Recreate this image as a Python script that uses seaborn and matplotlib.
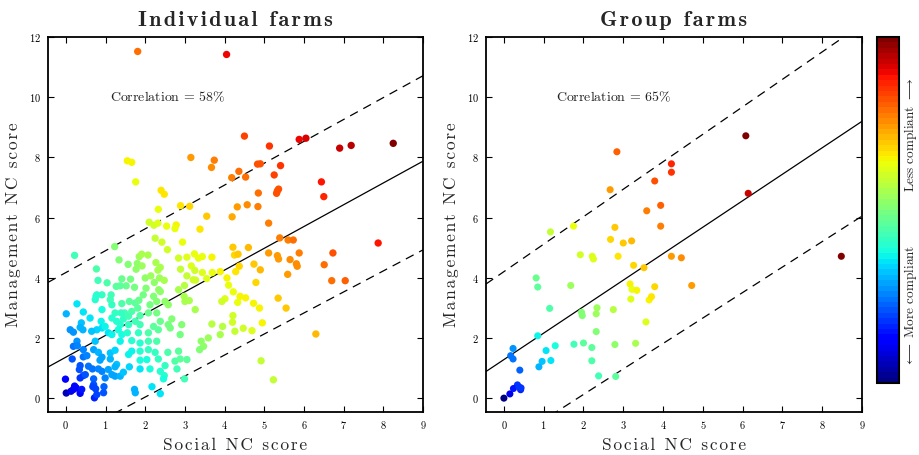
import numpy as np
import pandas as pd
import matplotlib
matplotlib.use("Agg")
import matplotlib.pyplot as plt
import seaborn as sns
from matplotlib.colors import PowerNorm, Normalize
from matplotlib.cm import ScalarMappable

# ---------------- data ----------------
ind_social = [
    1.81, 4.05, 1.55, 1.66, 3.15, 3.74, 3.67, 1.76, 4.50, 5.88, 6.05, 5.13, 6.90, 7.19, 8.25, 4.36, 4.83, 4.90, 5.41, 4.18, 4.53, 5.25, 6.44,
    2.40, 2.48, 4.85, 2.89, 3.12, 2.33, 4.32, 4.57, 4.84, 3.55, 4.19, 2.10, 2.22, 2.32, 2.54, 2.78, 2.75, 3.38, 1.23, 2.25, 2.42, 2.94, 2.56,
    4.21, 4.60, 4.25, 4.34, 0.22, 1.34, 1.85, 1.91, 2.07, 1.57, 1.80, 1.92, 1.77, 2.27, 2.38, 2.32, 2.84, 3.05, 3.24, 3.34, 3.44, 3.68, 3.16,
    2.89, 3.05, 3.25, 3.44, 3.69, 3.89, 4.37, 4.74, 0.77, 2.00, 2.14, 2.36, 4.06, 4.28,
    0.81, 1.04, 1.27, 1.41, 1.52, 1.63, 1.37, 2.02, 2.23, 2.48, 2.34, 1.73, 3.21, 3.27, 2.99, 3.55, 4.10, 4.22, 4.39, 4.79, 0.76,
    4.53, 4.01, 4.33, 4.73, 4.88, 4.21, 4.20, 4.26, 4.47, 4.69, 4.95, 4.92, 5.23,
    0.28, 0.01, 0.44, 0.61, 0.39, 0.36, 0.11, 0.19, 0.43, 0.28, 0.19, 0.29, 0.16, 0.44, 0.53, 0.36, 0.34, 0.44, 0.36, 0.49, -0.01, 0.70,
    0.57, 0.70, 0.75, 0.72, 0.78, 0.96, 0.95, 0.68, 0.01, 0.19, 0.26, 0.36, 0.13, 0.22, 0.40, 1.73, 1.75, 2.17, 2.38,
    0.74, 0.91, 0.78, 1.14, 1.12, 0.91, 1.16, 1.41, 1.48, 1.60, 1.75, 1.84, 1.81, 1.66, 1.39, 1.24, 1.16, 1.28, 1.45, 1.58, 1.37, 1.58,
    1.75, 1.87, 1.87, 0.89, 0.91, 0.78, 0.65, 0.99, 1.07, 1.16, 1.32, 1.41, 1.55, 1.37, 1.66, 1.83, 1.87, 0.74, 0.70, 0.44, 0.82, 0.91,
    0.86, 0.67, 0.82, 0.91, 0.99, 1.16, 1.07, 1.24, 1.37, 1.45, 1.28, 1.24, 1.60, 1.12, 1.12, 1.24, 1.58, 1.66, 1.87, 1.87, 2.08, 2.04,
    2.25, 2.33, 2.57, 2.50, 2.38, 2.12, 1.87, 2.48, 2.46, 2.75, 2.88, 2.80, 3.05, 2.99, 2.84, 2.08, 2.29, 2.08, 2.21, 2.33, 2.38, 2.29,
    2.08, 2.12, 2.29, 2.50, 2.58, 1.95, 2.21, 2.38, 2.84, 2.98, 3.11, 3.26, 2.67, 2.58, 2.88, 2.92, 2.63, 3.41, 3.47, 3.37, 3.59, 3.68,
    3.89, 3.95, 3.93, 3.00,
    6.50, 5.36, 5.33, 5.31, 5.11, 5.39, 5.60, 5.73, 7.87, 6.73, 6.51, 6.70, 7.04, 5.11, 5.33, 5.36, 5.65, 5.88, 5.81, 5.83, 5.59, 4.90,
    5.35, 5.55, 6.30,
]
ind_mgmt = [
    11.52, 11.42, 7.89, 7.84, 8.00, 7.91, 7.67, 7.19, 8.71, 8.60, 8.64, 8.38, 8.31, 8.40, 8.47, 7.54, 7.78, 7.79, 7.73, 7.33, 7.35, 7.42, 7.19,
    6.91, 6.78, 6.82, 6.40, 6.38, 6.28, 6.36, 6.43, 6.37, 6.05, 6.03, 5.85, 5.75, 5.82, 5.72, 5.76, 5.64, 5.62, 5.04, 5.32, 5.19, 5.19, 4.94,
    5.02, 5.01, 4.76, 4.79, 4.75, 4.60, 4.71, 4.79, 4.76, 4.45, 4.48, 4.40, 4.29, 4.51, 4.35, 4.26, 4.66, 4.69, 4.80, 4.66, 4.71, 4.69, 4.40,
    4.29, 4.07, 4.25, 4.18, 4.18, 4.21, 4.39, 4.46, 4.30, 4.00, 4.07, 4.00, 4.00, 4.21,
    3.92, 3.84, 3.72, 3.97, 3.74, 3.96, 3.74, 3.66, 3.85, 3.92, 3.61, 3.69, 3.94, 3.93, 3.75, 3.98, 3.76, 3.54, 3.39, 3.85, 3.39,
    3.34, 3.31, 3.19, 3.16, 3.00, 2.75, 2.53, 2.23, 2.33, 2.25, 2.51, 1.25, 0.62,
    3.14, 2.81, 2.87, 2.67, 2.51, 2.36, 2.28, 2.20, 2.28, 1.90, 1.73, 1.75, 1.31, 1.38, 1.42, 1.09, 0.96, 0.76, 0.68, 0.79, 0.64, 0.65,
    1.07, 0.46, 0.32, 0.02, 0.13, 0.39, 0.19, 0.39, 0.18, 0.30, 0.35, 0.17, 0.24, 0.41, 0.30, 0.30, 0.19, 0.39, 0.16,
    3.28, 3.44, 3.44, 3.44, 3.28, 2.95, 3.11, 3.15, 2.84, 3.22, 3.17, 3.26, 3.00, 2.89, 2.84, 2.84, 2.67, 2.56, 2.64, 2.73, 2.45, 2.45,
    2.56, 2.75, 2.45, 2.56, 2.34, 2.28, 2.23, 2.39, 2.18, 2.12, 2.28, 2.12, 2.18, 1.90, 1.92, 2.18, 1.84, 1.90, 1.62, 1.62, 1.53, 1.37,
    1.27, 0.98, 0.98, 0.90, 0.68, 0.79, 0.96, 0.74, 0.74, 0.87, 1.13, 1.05, 1.05, 1.31, 1.51, 1.60, 1.46, 1.57, 1.57, 1.27, 1.62, 1.29,
    1.53, 1.31, 1.53, 1.09, 0.90, 0.98, 0.98, 0.76, 0.65, 1.24, 1.31, 0.98, 1.29, 0.65, 1.57, 1.90, 1.90, 2.18, 2.39, 2.28, 2.56, 2.84,
    2.84, 3.11, 3.22, 3.22, 3.11, 3.44, 3.39, 3.55, 3.61, 3.39, 3.25, 2.95, 2.64, 2.45, 2.12, 2.45, 2.34, 1.90, 1.73, 1.62, 2.01, 2.47,
    2.12, 2.39, 3.22, 3.22,
    6.70, 6.95, 6.89, 6.81, 5.82, 5.33, 5.26, 5.26, 5.16, 4.83, 4.44, 3.91, 3.91, 4.83, 4.74, 4.63, 4.61, 4.83, 4.47, 4.39, 4.12, 4.27,
    3.33, 3.00, 2.14,
]

grp_social = [
    2.84, 4.21, 4.21, 3.79, 2.67, 3.94, 3.59, 3.94, 1.17, 1.75, 2.79, 2.68, 3.00, 3.21, 1.92, 2.22, 2.25, 2.87, 4.21, 4.46, 3.26, 3.52,
    0.81, 0.85, 1.68, 3.17, 3.22, 3.34, 3.79, 3.19, 3.65, 3.71, 1.15, 1.95, 1.97, 2.34, 2.32, 2.75, 3.57, 2.32, 0.85, 0.23, 0.17, 0.23,
    1.06, 1.29, 1.76, 2.00, 2.21, 2.79, 3.31, 0.96, 1.18, 2.21, 0.88, 0.40, 2.38, 2.81, 0.34, 0.24, 0.42, 0.38, 0.15, 0.00, 0.43,
    6.08, 6.14, 4.72, 8.48,
]
grp_mgmt = [
    8.19, 7.79, 7.51, 7.22, 6.93, 6.41, 6.23, 5.72, 5.53, 5.72, 5.68, 5.28, 5.16, 5.23, 4.77, 4.72, 4.63, 4.72, 4.72, 4.67, 4.42, 4.34,
    4.00, 3.70, 3.75, 3.80, 3.62, 3.59, 3.71, 3.30, 3.27, 3.38, 2.99, 2.86, 2.75, 3.01, 2.81, 2.95, 2.54, 2.22, 2.08, 1.66, 1.42, 1.31,
    1.59, 1.75, 1.80, 1.84, 1.69, 1.79, 1.83, 1.23, 1.26, 1.25, 1.05, 0.94, 0.75, 0.73, 0.45, 0.33, 0.29, 0.38, 0.15, 0.01, 0.35,
    8.72, 6.81, 3.75, 4.72,
]

# regression line (intercept, slope) and the two dashed band lines
ind_fit = (1.37, 0.723)
ind_upper = (4.18, 0.726)
ind_lower = (-1.35, 0.698)
grp_fit = (1.29, 0.879)
grp_upper = (4.21, 0.912)
grp_lower = (-1.56, 0.846)

titles = ["Individual farms", "Group farms"]
correlations = [58, 65]
x_label = "Social NC score"
y_label = "Management NC score"
cbar_labels = ["Less compliant", "More compliant"]
x_ticks = list(range(0, 10))
y_ticks = list(range(0, 13, 2))


def spaced(s, sep="\u200a"):
    """Insert hair spaces between letters to mimic the letter-spaced original."""
    return sep.join(s)


# ---------------- style ----------------
sns.set_style("ticks")
plt.rcParams["font.family"] = ["cmr10", "DejaVu Serif", "DejaVu Sans"]
plt.rcParams["mathtext.fontset"] = "cm"
plt.rcParams["axes.formatter.use_mathtext"] = True
plt.rcParams["axes.unicode_minus"] = False

jet = plt.get_cmap("jet", 64)

fig = plt.figure(figsize=(9.2, 4.55), dpi=100)
ax1 = fig.add_axes([48 / 920, 1 - 412 / 455, 375 / 920, 375 / 455])
ax2 = fig.add_axes([486 / 920, 1 - 412 / 455, 376 / 920, 375 / 455])
cax = fig.add_axes([877 / 920, 1 - 383 / 455, 22 / 920, 346 / 455])

XLIM = (-0.45, 9.0)
YLIM = (-0.45, 12.0)

panels = [
    (ax1, ind_social, ind_mgmt, ind_fit, ind_upper, ind_lower, titles[0], correlations[0], 1.12, 28),
    (ax2, grp_social, grp_mgmt, grp_fit, grp_upper, grp_lower, titles[1], correlations[1], 1.32, 26),
]

for ax, xs, ys, fit, up, lo, title, corr, tx, size in panels:
    df = pd.DataFrame({"social": xs, "mgmt": ys})
    df["score"] = 1.5 * df["social"] + df["mgmt"]
    norm = PowerNorm(gamma=0.6, vmin=0, vmax=df["score"].max())
    sns.scatterplot(data=df, x="social", y="mgmt", hue="score", palette=jet,
                    hue_norm=norm, s=size, linewidth=0, legend=False, ax=ax, zorder=3)
    xx = np.array(XLIM)
    ax.plot(xx, fit[0] + fit[1] * xx, color="black", lw=0.9, zorder=2)
    for b in (up, lo):
        ax.plot(xx, b[0] + b[1] * xx, color="black", lw=0.9, ls=(0, (7, 5)), zorder=2)
    ax.set_xlim(*XLIM)
    ax.set_ylim(*YLIM)
    ax.set_xticks(x_ticks)
    ax.set_yticks(y_ticks)
    ax.tick_params(direction="in", top=True, right=True, length=4, width=0.8,
                   labelsize=7.5, colors="black", pad=5)
    for sp in ax.spines.values():
        sp.set_visible(True)
        sp.set_linewidth(1.3)
        sp.set_color("black")
    ax.set_xlabel(spaced(x_label), fontsize=12.5, labelpad=5)
    ax.set_ylabel(spaced(y_label), fontsize=12.5, labelpad=6)
    ax.set_title(spaced(title), fontsize=16, fontfamily=["cmb10", "DejaVu Serif", "DejaVu Sans"], pad=8)
    ax.text(tx, 10, f"Correlation = {corr}$\\%$", fontsize=10, ha="left", va="center", color="#222222")

cb = fig.colorbar(ScalarMappable(norm=Normalize(0, 1), cmap=jet), cax=cax)
cb.set_ticks([])
cb.outline.set_linewidth(1.5)
cb.outline.set_edgecolor("black")

fig.text(911 / 920, 1 - 135 / 455, cbar_labels[0] + r" $\longrightarrow$", rotation=90,
         ha="center", va="center", fontsize=9.5)
fig.text(911 / 920, 1 - 306 / 455, r"$\longleftarrow$ " + cbar_labels[1], rotation=90,
         ha="center", va="center", fontsize=9.5)

fig.savefig("out.png", dpi=100)
